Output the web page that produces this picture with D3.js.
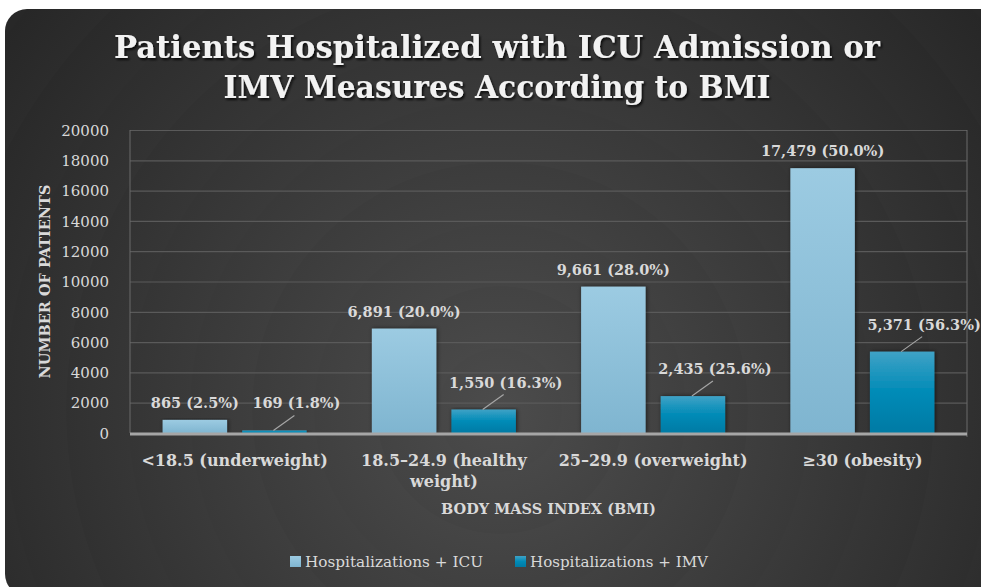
<!DOCTYPE html>
<html>
<head>
<meta charset="utf-8">
<style>
  body { margin: 0; background: #fff; }
  svg text { font-family: "DejaVu Serif", serif; }
  .tick-label { fill: #d9d9d9; font-size: 15px; }
  .cat-label { fill: #d9d9d9; font-size: 16px; font-weight: bold; }
  .val-label { fill: #d9d9d9; font-size: 14.5px; font-weight: bold; }
  .axis-title { fill: #d9d9d9; font-size: 14.5px; font-weight: bold; }
  .legend text { fill: #d9d9d9; font-size: 15px; }
</style>
</head>
<body>
<svg id="chart" width="981" height="587"></svg>
<script src="https://cdnjs.cloudflare.com/ajax/libs/d3/7.8.5/d3.min.js"></script>
<script>
// chart data
var categories = ["<18.5 (underweight)", "18.5\u201324.9 (healthy weight)", "25\u201329.9 (overweight)", "\u226530 (obesity)"];
var seriesNames = ["Hospitalizations + ICU", "Hospitalizations + IMV"];
var icuValues = [865, 6891, 9661, 17479];
var icuPct = ["2.5%", "20.0%", "28.0%", "50.0%"];
var imvValues = [169, 1550, 2435, 5371];
var imvPct = ["1.8%", "16.3%", "25.6%", "56.3%"];
var yTicks = [0, 2000, 4000, 6000, 8000, 10000, 12000, 14000, 16000, 18000, 20000];

var svg = d3.select("#chart");
var W = 981, H = 587;
var margin = { left: 130, right: 14, top: 130, bottom: 154 };

var defs = svg.append("defs");

// background radial rings
var bg = defs.append("radialGradient").attr("id", "bg")
  .attr("gradientUnits", "userSpaceOnUse")
  .attr("cx", 500).attr("cy", 410).attr("r", 620);
var ringStops = [];
for (var i = 0; i <= 10; i++) {
  var t = i / 10;
  var base = 76 - 36 * t;
  ringStops.push({ o: t, c: d3.rgb(base, base, base) });
  if (i < 10) ringStops.push({ o: t + 0.099, c: d3.rgb(base - 5, base - 5, base - 5) });
}
bg.selectAll("stop").data(ringStops).enter().append("stop")
  .attr("offset", function(d) { return d.o; })
  .attr("stop-color", function(d) { return d.c; });

var g1 = defs.append("linearGradient").attr("id", "icu").attr("x1", 0).attr("y1", 0).attr("x2", 0).attr("y2", 1);
g1.append("stop").attr("offset", 0).attr("stop-color", "#9ccbe2");
g1.append("stop").attr("offset", 1).attr("stop-color", "#7fb5d0");
var g2 = defs.append("linearGradient").attr("id", "imv").attr("x1", 0).attr("y1", 0).attr("x2", 0).attr("y2", 1);
g2.append("stop").attr("offset", 0).attr("stop-color", "#3fa2c6");
g2.append("stop").attr("offset", 0.5).attr("stop-color", "#008bb7");
g2.append("stop").attr("offset", 1).attr("stop-color", "#007aa4");

var shadow = defs.append("filter").attr("id", "tshadow").attr("x", "-5%").attr("y", "-20%").attr("width", "110%").attr("height", "150%");
shadow.append("feDropShadow").attr("dx", 1.5).attr("dy", 2).attr("stdDeviation", 1.2).attr("flood-color", "#000").attr("flood-opacity", 0.8);
var bshadow = defs.append("filter").attr("id", "bshadow").attr("x", "-20%").attr("y", "-10%").attr("width", "140%").attr("height", "120%");
bshadow.append("feDropShadow").attr("dx", 1).attr("dy", 0).attr("stdDeviation", 2).attr("flood-color", "#000").attr("flood-opacity", 0.6);

svg.append("rect").attr("x", 5).attr("y", 9).attr("width", W - 5 + 20).attr("height", H).attr("rx", 22)
  .attr("fill", "url(#bg)");

// title
var title = svg.append("text").attr("text-anchor", "middle")
  .attr("fill", "#f2f2f2").attr("font-weight", "bold").attr("font-size", 32)
  .style("font-family", "'DejaVu Serif Condensed', 'DejaVu Serif', serif")
  .attr("filter", "url(#tshadow)");
title.append("tspan").attr("x", 497).attr("y", 58).attr("textLength", 766).attr("lengthAdjust", "spacingAndGlyphs")
  .text("Patients Hospitalized with ICU Admission or");
title.append("tspan").attr("x", 497).attr("y", 98).attr("textLength", 547).attr("lengthAdjust", "spacingAndGlyphs")
  .text("IMV Measures According to BMI");

// scales
var x0 = d3.scaleBand().domain(categories).range([margin.left, W - margin.right]).paddingInner(0).paddingOuter(0);
var x1 = d3.scaleBand().domain(seriesNames).range([0, x0.bandwidth()]).paddingInner(0.19).paddingOuter(0.41);
var y = d3.scaleLinear().domain([0, 20000]).range([H - margin.bottom, margin.top]);

// gridlines
var grid = svg.append("g").attr("transform", "translate(" + margin.left + ",0)")
  .call(d3.axisLeft(y).tickValues(yTicks).tickSize(-(W - margin.right - margin.left)).tickFormat(""));
grid.select(".domain").remove();
grid.selectAll("line").attr("stroke", "#5a5a5a").attr("stroke-width", 1.2);

// y tick labels
var yAxis = svg.append("g").attr("transform", "translate(" + (margin.left - 18) + ",0)")
  .call(d3.axisLeft(y).tickValues(yTicks).tickSize(0).tickFormat(d3.format("d")));
yAxis.select(".domain").remove();
yAxis.selectAll("text").attr("class", "tick-label").attr("fill", null).attr("font-size", null).attr("font-family", null).attr("dy", "0.35em");

// plot frame verticals
svg.append("line").attr("x1", margin.left).attr("x2", margin.left).attr("y1", y(20000)).attr("y2", y(0))
  .attr("stroke", "#6a6a6a").attr("stroke-width", 1);
svg.append("line").attr("x1", W - margin.right).attr("x2", W - margin.right).attr("y1", y(20000)).attr("y2", y(0) + 4)
  .attr("stroke", "#6a6a6a").attr("stroke-width", 1);

// bars
var rows = categories.map(function(c, i) {
  return [
    { cat: c, s: seriesNames[0], v: icuValues[i], p: icuPct[i], fill: "url(#icu)" },
    { cat: c, s: seriesNames[1], v: imvValues[i], p: imvPct[i], fill: "url(#imv)" }
  ];
});
var groups = svg.selectAll(".cat").data(rows).enter().append("g").attr("class", "cat")
  .attr("transform", function(d) { return "translate(" + x0(d[0].cat) + ",0)"; });
groups.selectAll("rect").data(function(d) { return d; }).enter().append("rect")
  .attr("x", function(d) { return x1(d.s); })
  .attr("y", function(d) { return y(d.v); })
  .attr("width", x1.bandwidth())
  .attr("height", function(d) { return y(0) - y(d.v); })
  .attr("fill", function(d) { return d.fill; })
  .attr("filter", "url(#bshadow)");

// baseline
svg.append("line").attr("x1", margin.left).attr("x2", W - margin.right).attr("y1", y(0) + 1).attr("y2", y(0) + 1)
  .attr("stroke", "#a6a6a6").attr("stroke-width", 3);

var fmt = d3.format(",");
// value labels
groups.each(function(d) {
  var g = d3.select(this);
  var icu = d[0], imv = d[1];
  var cx = x1(icu.s) + x1.bandwidth() / 2;
  g.append("text").attr("class", "val-label").attr("text-anchor", "middle")
    .attr("x", cx).attr("y", y(icu.v) - 12)
    .text(fmt(icu.v) + " (" + icu.p + ")");
  var mx = x1(imv.s) + x1.bandwidth() / 2;
  var top = y(imv.v);
  g.append("line").attr("x1", mx - 1).attr("y1", top).attr("x2", mx + 20).attr("y2", top - 15)
    .attr("stroke", "#a6a6a6").attr("stroke-width", 1.2);
  g.append("text").attr("class", "val-label").attr("text-anchor", "middle")
    .attr("x", mx + 22).attr("y", top - 22)
    .text(fmt(imv.v) + " (" + imv.p + ")");
});

// category labels (wrapped to band width)
groups.append("text").attr("class", "cat-label").attr("text-anchor", "middle")
  .attr("x", x0.bandwidth() / 2).attr("y", y(0) + 33)
  .each(function(d) {
    var t = d3.select(this);
    var words = d[0].cat.split(" ");
    var line = [], tspan = t.append("tspan").attr("x", x0.bandwidth() / 2).attr("dy", 0);
    words.forEach(function(w) {
      line.push(w);
      tspan.text(line.join(" "));
      if (tspan.node().getComputedTextLength() > x0.bandwidth() - 12 && line.length > 1) {
        line.pop();
        tspan.text(line.join(" "));
        line = [w];
        tspan = t.append("tspan").attr("x", x0.bandwidth() / 2).attr("dy", 21).text(w);
      }
    });
  });

// axis titles
svg.append("text").attr("class", "axis-title").attr("text-anchor", "middle")
  .attr("transform", "translate(50," + ((y(0) + y(20000)) / 2) + ") rotate(-90)")
  .text("NUMBER OF PATIENTS");
svg.append("text").attr("class", "axis-title").attr("text-anchor", "middle")
  .attr("x", (margin.left + W - margin.right) / 2).attr("y", 514)
  .text("BODY MASS INDEX (BMI)");

// legend
var legend = svg.append("g").attr("class", "legend");
var legX = [290, 515];
seriesNames.forEach(function(s, i) {
  legend.append("rect").attr("x", legX[i]).attr("y", 556).attr("width", 11).attr("height", 11)
    .attr("fill", i === 0 ? "url(#icu)" : "url(#imv)");
  legend.append("text").attr("x", legX[i] + 15).attr("y", 567).attr("textLength", 178).attr("lengthAdjust", "spacingAndGlyphs").text(s);
});
</script>
</body>
</html>
